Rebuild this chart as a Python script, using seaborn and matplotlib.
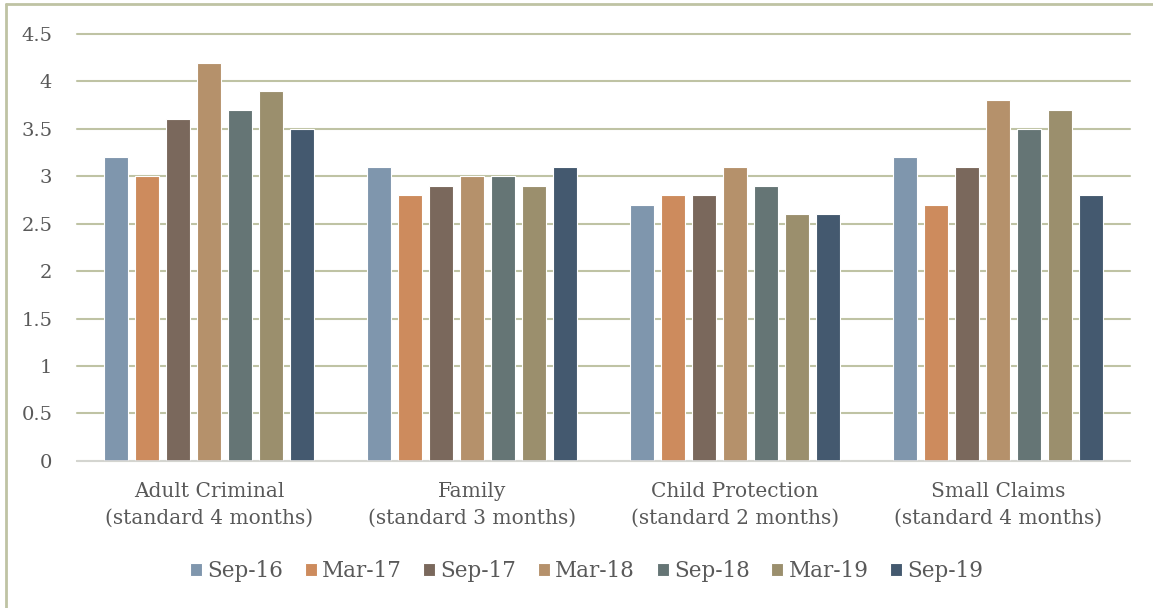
import pandas as pd
import matplotlib.pyplot as plt
import seaborn as sns
from matplotlib.lines import Line2D

categories = ["Adult Criminal\n(standard 4 months)", "Family\n(standard 3 months)",
              "Child Protection\n(standard 2 months)", "Small Claims\n(standard 4 months)"]
periods = ["Sep-16", "Mar-17", "Sep-17", "Mar-18", "Sep-18", "Mar-19", "Sep-19"]
sep16 = [3.2, 3.1, 2.7, 3.2]
mar17 = [3.0, 2.8, 2.8, 2.7]
sep17 = [3.6, 2.9, 2.8, 3.1]
mar18 = [4.2, 3.0, 3.1, 3.8]
sep18 = [3.7, 3.0, 2.9, 3.5]
mar19 = [3.9, 2.9, 2.6, 3.7]
sep19 = [3.5, 3.1, 2.6, 2.8]
colors = ["#7F96AD", "#CD8B5D", "#7A685C", "#B5916B", "#657575", "#9B8F6D", "#44596F"]

series = [sep16, mar17, sep17, mar18, sep18, mar19, sep19]
rows = []
for p, vals in zip(periods, series):
    for c, v in zip(categories, vals):
        rows.append({"category": c, "period": p, "value": v})
df = pd.DataFrame(rows)

sns.set_theme(style="white")
plt.rcParams["font.family"] = ["DejaVu Serif"]
text_col = "#595959"

fig, ax = plt.subplots(figsize=(11.53, 6.08), dpi=100)
fig.subplots_adjust(left=0.067, right=0.98, top=0.944, bottom=0.242)

sns.barplot(data=df, x="category", y="value", hue="period", hue_order=periods,
            palette=colors, width=0.824, gap=0.226, edgecolor="white", linewidth=0.8,
            saturation=1, ax=ax)

ax.set_ylim(0, 4.5)
ax.set_yticks([0, 0.5, 1, 1.5, 2, 2.5, 3, 3.5, 4, 4.5])
ax.set_yticklabels(["0", "0.5", "1", "1.5", "2", "2.5", "3", "3.5", "4", "4.5"])
ax.set_xlim(-0.5, 3.5)
ax.yaxis.grid(True, color="#BFC3A4", linewidth=1.5)
for gl in ax.get_ygridlines():
    gl.set_clip_on(False)
ax.set_axisbelow(True)
for s in ["top", "right", "left"]:
    ax.spines[s].set_visible(False)
ax.spines["bottom"].set_color("#D9D9D9")
ax.spines["bottom"].set_linewidth(1.2)
ax.tick_params(axis="y", length=0, labelsize=14, labelcolor=text_col, pad=18)
ax.tick_params(axis="x", length=0, labelsize=14.5, labelcolor=text_col, pad=15)
for lbl in ax.get_xticklabels():
    lbl.set_linespacing(1.55)
ax.set_xlabel("")
ax.set_ylabel("")

ax.legend(loc="center", bbox_to_anchor=(0.484, -0.258), ncol=7, frameon=False,
          fontsize=15.5, handlelength=0.55, handleheight=0.55, handletextpad=0.25,
          columnspacing=1.0, labelcolor=text_col)

# figure frame: left and top edges only
fig.add_artist(Line2D([0.005, 0.005], [0.0, 0.993], transform=fig.transFigure,
                      color="#BFC3A4", linewidth=2))
fig.add_artist(Line2D([0.005, 1.0], [0.993, 0.993], transform=fig.transFigure,
                      color="#BFC3A4", linewidth=2))

fig.savefig("out.png", dpi=100)
